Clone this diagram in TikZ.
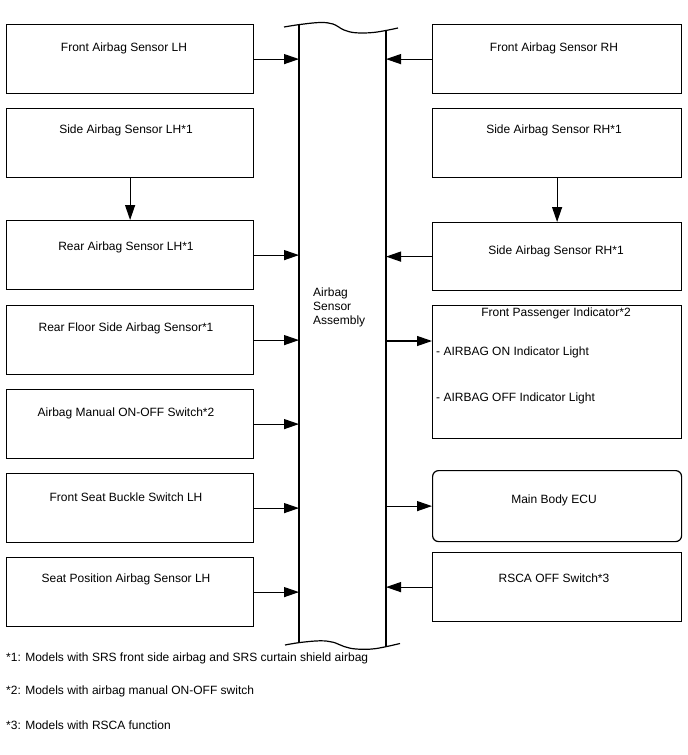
\documentclass[tikz,border=0pt]{standalone}
\usepackage{fontspec}
\setmainfont{Liberation Sans}
\usetikzlibrary{arrows.meta,calc}
\begin{document}
\begin{tikzpicture}[x=1pt,y=-1pt,
  box/.style={draw,line width=1.2pt,anchor=north west,minimum width=247pt,minimum height=69pt,inner sep=0pt},
  rbox/.style={box,minimum width=249pt},
  lbl/.style={font=\fontsize{12}{14}\selectfont,inner sep=0pt},
  arr/.style={line width=1.2pt,-{Triangle[length=15pt,width=10pt]}},
  ln/.style={line width=1.2pt}]
\useasboundingbox (0,0) rectangle (688,755);
% left boxes
\node[box] (flh) at (6,24) {};
\node[box] (slh) at (6,108) {};
\node[box] (rlh) at (6,220) {};
\node[box] (rfs) at (6,305) {};
\node[box] (ams) at (6,389) {};
\node[box] (fsb) at (6,473) {};
\node[box] (spa) at (6,557) {};
\node[lbl] (tflh) at (124,48) {Front Airbag Sensor LH};
\node[lbl] (tslh) at (126,130) {Side Airbag Sensor LH*1};
\node[lbl] (trlh) at (126,247) {Rear Airbag Sensor LH*1};
\node[lbl] (trfs) at (126,328) {Rear Floor Side Airbag Sensor*1};
\node[lbl] (tams) at (126,413) {Airbag Manual ON-OFF Switch*2};
\node[lbl] (tfsb) at (126,497) {Front Seat Buckle Switch LH};
\node[lbl] (tspa) at (126,579) {Seat Position Airbag Sensor LH};
% right boxes
\node[rbox] (frh) at (432,24) {};
\node[rbox] (srh) at (432,108) {};
\node[rbox,minimum height=68pt] (srh2) at (432,222) {};
\node[rbox,minimum height=133pt] (fpi) at (432,305) {};
\node[rbox,minimum height=71pt,rounded corners=6pt] (mbe) at (432,470) {};
\node[rbox] (rsc) at (432,552) {};
\node[lbl] (tfrh) at (554,48) {Front Airbag Sensor RH};
\node[lbl] (tsrh) at (554,130) {Side Airbag Sensor RH*1};
\node[lbl] (tsrh2) at (556,251) {Side Airbag Sensor RH*1};
\node[lbl] (tfpi) at (556,313) {Front Passenger Indicator*2};
\node[lbl,anchor=west] (tfpi1) at (436,352) {- AIRBAG ON Indicator Light};
\node[lbl,anchor=west] (tfpi2) at (436,398) {- AIRBAG OFF Indicator Light};
\node[lbl] (tmbe) at (554,500) {Main Body ECU};
\node[lbl] (trsc) at (554,578) {RSCA OFF Switch*3};
% column
\coordinate (colL) at (299,24);
\coordinate (colR) at (386,24);
\draw[ln] (299,25) -- (299,643);
\draw[ln] (386,31) -- (386,647);
\draw[ln] plot[smooth,tension=0.6] coordinates {(284,27) (300,24.5) (320,22.5) (333,24) (344,30) (356,32.8) (375,32.3) (398,28)};
\draw[ln] plot[smooth,tension=0.6] coordinates {(285,645) (300,642.5) (320,640.8) (333,642.2) (344,646.5) (356,649) (375,648.7) (400,643.5)};
\node[lbl,anchor=west,align=left] (col) at (313,307) {Airbag\\Sensor\\Assembly};
% connectors left
\draw[arr] (flh.east) -- (flh.east -| colL);
\draw[arr] (slh.south) -- (rlh.north);
\draw[arr] (rlh.east) -- (rlh.east -| colL);
\draw[arr] (rfs.east) -- (rfs.east -| colL);
\draw[arr] (ams.east) -- (ams.east -| colL);
\draw[arr] (fsb.east) -- (fsb.east -| colL);
\draw[arr] (spa.east) -- (spa.east -| colL);
% connectors right
\draw[arr] (frh.west) -- (frh.west -| colR);
\draw[arr] (srh.south) -- (srh2.north);
\draw[arr] (srh2.west) -- (srh2.west -| colR);
\coordinate (fpin) at ($(fpi.north west)+(0,36)$);
\draw[arr] (fpin -| colR) -- (fpin);
\draw[arr] (mbe.west -| colR) -- (mbe.west);
\draw[arr] (rsc.west) -- (rsc.west -| colR);
% footnotes
\node[lbl,anchor=west] (n1) at (6,658) {*1: Models with SRS front side airbag and SRS curtain shield airbag};
\node[lbl,anchor=west] (n2) at (6,691) {*2: Models with airbag manual ON-OFF switch};
\node[lbl,anchor=west] (n3) at (6,725) {*3: Models with RSCA function};
\end{tikzpicture}
\end{document}
